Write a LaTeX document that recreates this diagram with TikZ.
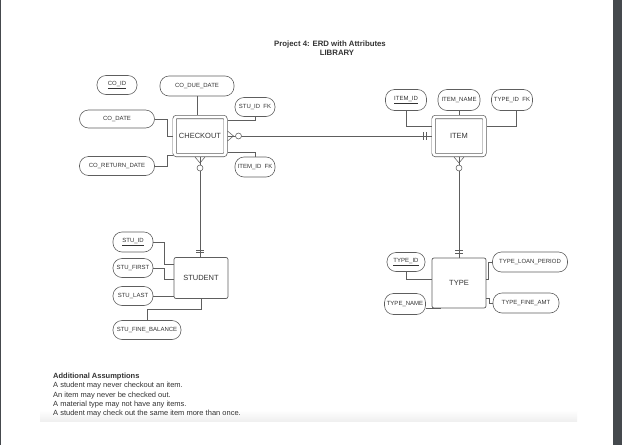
\documentclass[tikz,border=0pt]{standalone}
\usepackage{fontspec}
\setmainfont{Liberation Sans}
\definecolor{linegray}{HTML}{5E5E5E}
\definecolor{textgray}{HTML}{333333}
\definecolor{sidebar}{HTML}{45494D}
\begin{document}
\begin{tikzpicture}[
  x=1pt, y=-1pt,
  attr/.style={draw=linegray, fill=white, rounded corners=9pt, minimum height=19pt, inner sep=1pt, text=textgray, font=\fontsize{6}{7}\selectfont, line width=0.6pt},
  entity/.style={draw=linegray, fill=white, rounded corners=2pt, minimum width=54pt, minimum height=41pt, text=textgray, font=\fontsize{7.5}{9}\selectfont, line width=0.7pt},
  wentity/.style={entity, double, double distance=2.6pt, minimum width=51pt, minimum height=38pt, outer sep=2pt},
  link/.style={draw=linegray, line width=0.55pt},
  ring/.style={link, fill=white}
]
  \useasboundingbox (0,0) rectangle (622,445);
  \fill[white] (0,0) rectangle (622,445);
  \fill[sidebar] (613,0) rectangle (622,445);
  \fill[sidebar] (0,0) rectangle (1.2,445);
  \shade[top color=white, bottom color=gray!12] (40,410) rectangle (577,421);

  % title
  \node[font=\bfseries\fontsize{7.8}{9}\selectfont, text=textgray] (title) at (330,44) {Project 4: ERD with Attributes};
  \node[font=\bfseries\fontsize{7.8}{9}\selectfont, text=textgray] (lib) at (337,53) {LIBRARY};

  % entities
  \node[wentity] (co) at (200,136) {CHECKOUT};
  \node[wentity] (item) at (459,136) {ITEM};
  \node[entity] (stu) at (201,278) {STUDENT};
  \node[entity, minimum height=50pt] (type) at (459,283) {TYPE};

  % checkout attributes
  \node[attr, minimum width=40pt] (coid) at (117,85) {\underline{CO\_ID}};
  \node[attr, minimum width=74pt, minimum height=20pt] (codue) at (197,86) {CO\_DUE\_DATE};
  \node[attr, minimum width=40pt] (stuidfk) at (255,107) {STU\_ID\ \ FK};
  \node[attr, minimum width=75pt, minimum height=18pt] (codate) at (117,119) {CO\_DATE};
  \node[attr, minimum width=75pt] (coret) at (117,166) {CO\_RETURN\_DATE};
  \node[attr, minimum width=40pt, minimum height=20pt] (itemidfk) at (255,167) {ITEM\_ID\ \ FK};

  % item attributes
  \node[attr, minimum width=41pt, minimum height=21pt] (itemid) at (406,100) {\underline{ITEM\_ID}};
  \node[attr, minimum width=42pt, minimum height=21pt] (itemname) at (459,100) {ITEM\_NAME};
  \node[attr, minimum width=41pt, minimum height=21pt] (typeidfk) at (512,100) {TYPE\_ID\ \ FK};

  % student attributes
  \node[attr, minimum width=40pt, minimum height=20pt] (stuid) at (133,242) {\underline{STU\_ID}};
  \node[attr, minimum width=40pt] (stufirst) at (133,268) {STU\_FIRST};
  \node[attr, minimum width=40pt] (stulast) at (133,296) {STU\_LAST};
  \node[attr, minimum width=68pt] (stufine) at (147,330) {STU\_FINE\_BALANCE};

  % type attributes
  \node[attr, minimum width=38pt] (typeid) at (406,262) {\underline{TYPE\_ID}};
  \node[attr, minimum width=41pt, minimum height=21pt] (typename) at (405,304) {TYPE\_NAME};
  \node[attr, minimum width=75pt, minimum height=20pt] (typeloan) at (530,262) {TYPE\_LOAN\_PERIOD};
  \node[attr, minimum width=66pt, minimum height=20pt] (typefine) at (526,303) {TYPE\_FINE\_AMT};

  % attribute links
  \draw[link] (codue.south) -- (codue.south |- co.north);
  \draw[link] (stuidfk.south) |- ([yshift=16pt]co.east);
  \draw[link] (codate.east) -- ++(12,0) |- (co.west);
  \draw[link] (coret.east) -- ++(12,0) |- ([yshift=-19pt]co.west);
  \draw[link] ([yshift=-16pt]co.east) -| (itemidfk.north);
  \draw[link] (itemid.south) |- ([yshift=10pt]item.west);
  \draw[link] (itemname.south) -- (item.north);
  \draw[link] ([xshift=4pt]typeidfk.south) |- ([yshift=10pt]item.east);
  \draw[link] (stuid.east) -- ++(11,0) |- ([yshift=14pt]stu.west);
  \draw[link] (stufirst.east) -- ++(11,0) |- ([yshift=-1pt]stu.west);
  \draw[link] (stulast.east) -- (stulast.east -| stu.west);
  \draw[link] (stufine.north) -- ++(0,-11) -| (stu.south);
  \draw[link] (typeid.south) |- ([yshift=4pt]type.west);
  \draw[link] ([yshift=-4pt]typename.east) -| ([xshift=-19pt]type.south);
  \draw[link] (typeloan.west) -- ++(-4,0) |- ([yshift=4pt]type.east);
  \draw[link] ([yshift=-15pt]type.east) -- ++(3,0) |- (typefine.west);

  % relationships
  \draw[link] (co.east) -- (item.west);
  \draw[link] (co.south) -- (co.south |- stu.north);
  \draw[link] (item.south) -- (type.north);

  % zero or many ends
  \draw[link] ([yshift=5pt]co.east) -- ++(6,5) -- ([yshift=-5pt]co.east);
  \draw[ring] ([xshift=11pt]co.east) circle[radius=3pt];
  \draw[link] ([xshift=-5pt]co.south) -- ++(5,6) -- ([xshift=5pt]co.south);
  \draw[ring] ([yshift=-11pt]co.south) circle[radius=3pt];
  \draw[link] ([xshift=-5pt]item.south) -- ++(5,6) -- ([xshift=5pt]item.south);
  \draw[ring] ([yshift=-11pt]item.south) circle[radius=3pt];

  % exactly one ends
  \draw[link] ([xshift=-8pt,yshift=4pt]item.west) -- ++(0,8);
  \draw[link] ([xshift=-5.5pt,yshift=4pt]item.west) -- ++(0,8);
  \draw[link] ([xshift=-4pt,yshift=7pt]co.south |- stu.north) -- ++(8,0);
  \draw[link] ([xshift=-4pt,yshift=4.5pt]co.south |- stu.north) -- ++(8,0);
  \draw[link] ([xshift=-4pt,yshift=7pt]type.north) -- ++(8,0);
  \draw[link] ([xshift=-4pt,yshift=4.5pt]type.north) -- ++(8,0);

  % assumptions
  \node[anchor=north west, align=left, text=textgray, font=\fontsize{7.5}{9.2}\selectfont, inner sep=0pt] (notes) at (53,373)
    {\textbf{Additional Assumptions}\\
     A student may never checkout an item.\\
     An item may never be checked out.\\
     A material type may not have any items.\\
     A student may check out the same item more than once.};
\end{tikzpicture}
\end{document}
